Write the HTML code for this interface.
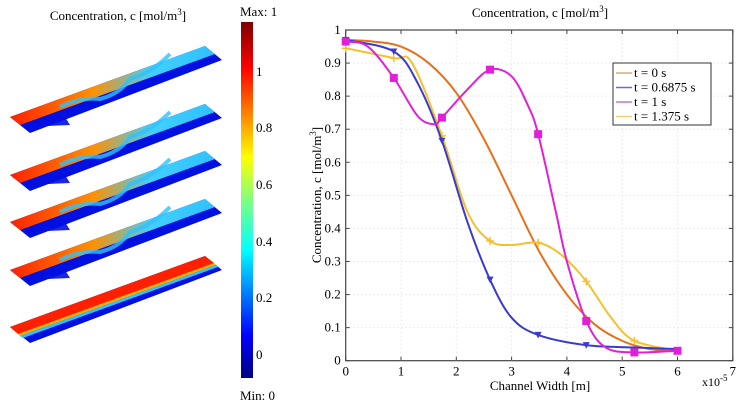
<!DOCTYPE html>
<html><head><meta charset="utf-8"><style>
body{margin:0;background:#fff;width:747px;height:408px;overflow:hidden;font-family:"Liberation Serif",serif}
</style></head><body>
<svg width="747" height="408" xmlns="http://www.w3.org/2000/svg" font-family="Liberation Serif, serif">
<defs>
<linearGradient id="jet" x1="0" y1="1" x2="0" y2="0">
<stop offset="0" stop-color="#00007f"/><stop offset="0.12" stop-color="#0000ff"/><stop offset="0.36" stop-color="#00ffff"/><stop offset="0.5" stop-color="#7fff7f"/><stop offset="0.62" stop-color="#ffff00"/><stop offset="0.87" stop-color="#ff0000"/><stop offset="1" stop-color="#7f0000"/>
</linearGradient>
<linearGradient id="mix" x1="0" y1="0" x2="1" y2="0">
<stop offset="0" stop-color="#ff2000"/><stop offset="0.4" stop-color="#ff9000"/><stop offset="0.7" stop-color="#40d0ff"/><stop offset="1" stop-color="#30c0ff"/>
</linearGradient>
</defs>
<text x="118" y="20" font-size="13" text-anchor="middle">Concentration, c [mol/m<tspan dy="-5" font-size="9">3</tspan><tspan dy="5">]</tspan></text>
<g id="slabs"></g>
<rect x="241" y="22" width="12" height="356" fill="url(#jet)"/>
<g font-size="13">
<text x="240" y="16">Max: 1</text>
<text x="240" y="400">Min:  0</text>
<text x="256" y="76">1</text><text x="256" y="132">0.8</text><text x="256" y="189">0.6</text><text x="256" y="246">0.4</text><text x="256" y="302">0.2</text><text x="256" y="359">0</text>
</g>
<text x="540" y="17" font-size="13" text-anchor="middle">Concentration, c [mol/m<tspan dy="-5" font-size="9">3</tspan><tspan dy="5">]</tspan></text>
<g id="chart"></g>
<text x="540" y="390" font-size="13" text-anchor="middle">Channel Width [m]</text>
<text x="702" y="386" font-size="12">x10<tspan dy="-5" font-size="9">-5</tspan></text>
<text transform="translate(321,195) rotate(-90)" font-size="13" text-anchor="middle">Concentration, c [mol/m<tspan dy="-5" font-size="9">3</tspan><tspan dy="5">]</tspan></text>
</svg>
<script>
const xTicks=[0,1,2,3,4,5,6,7];
const yTicks=[0,0.1,0.2,0.3,0.4,0.5,0.6,0.7,0.8,0.9,1];
const seriesNames=["t = 0 s","t = 0.6875 s","t = 1 s","t = 1.375 s"];
const xOrange=[0,0.5,1,1.5,2,2.5,3,3.5,4,4.5,5,5.5,6];
const yOrange=[0.97,0.965,0.95,0.9,0.81,0.67,0.5,0.33,0.2,0.11,0.06,0.035,0.03];
const xBlue=[0,0.87,1.3,1.74,2.2,2.61,3.0,3.48,4.35,5.22,6];
const yBlue=[0.97,0.935,0.84,0.665,0.42,0.245,0.13,0.078,0.047,0.04,0.035];
const xMag=[0,0.4,0.87,1.3,1.6,1.74,2.2,2.61,3.0,3.3,3.48,3.8,4.0,4.35,4.7,5.22,6];
const yMag=[0.965,0.95,0.855,0.74,0.715,0.735,0.82,0.88,0.86,0.77,0.685,0.45,0.3,0.12,0.04,0.025,0.03];
const xYel=[0,0.87,1.2,1.74,2.2,2.61,3.0,3.48,3.9,4.35,4.8,5.22,6];
const yYel=[0.945,0.915,0.9,0.68,0.45,0.362,0.35,0.357,0.32,0.24,0.13,0.06,0.03];
const mBlue=[0,0.87,1.74,2.61,3.48,4.35];
const mMag=[0,0.87,1.74,2.61,3.48,4.35,5.22,6];
const mYel=[0,0.87,1.74,2.61,3.48,4.35,5.22];
const NS="http://www.w3.org/2000/svg";
const X0=345.7,XU=55.3,Y0=360.7,YU=330.7;
const sx=v=>X0+v*XU, sy=v=>Y0-v*YU;
const g=document.getElementById('chart');
function el(t,a,p){const e=document.createElementNS(NS,t);for(const k in a)e.setAttribute(k,a[k]);(p||g).appendChild(e);return e;}
function interp(xs,ys,x){for(let i=0;i<xs.length-1;i++){if(x<=xs[i+1]){const t=(x-xs[i])/(xs[i+1]-xs[i]);return ys[i]+t*(ys[i+1]-ys[i]);}}return ys[ys.length-1];}
function spline(xs,ys){let d=`M${sx(xs[0])},${sy(ys[0])}`;const n=xs.length;for(let i=0;i<n-1;i++){const p0=i?i-1:0,p3=i+2<n?i+2:n-1;const x1=sx(xs[i])+(sx(xs[i+1])-sx(xs[p0]))/6,y1=sy(ys[i])+(sy(ys[i+1])-sy(ys[p0]))/6,x2=sx(xs[i+1])-(sx(xs[p3])-sx(xs[i]))/6,y2=sy(ys[i+1])-(sy(ys[p3])-sy(ys[i]))/6;d+=` C${x1},${y1} ${x2},${y2} ${sx(xs[i+1])},${sy(ys[i+1])}`;}return d;}
const frame=el('rect',{x:sx(0),y:sy(1),width:sx(7)-sx(0),height:sy(0)-sy(1),fill:'#fff',stroke:'#444','stroke-width':1.2});


xTicks.forEach(t=>{
  if(t>0&&t<7)el('line',{x1:sx(t),x2:sx(t),y1:sy(0),y2:sy(1),stroke:'#ddd','stroke-dasharray':'1 3'});
  el('line',{x1:sx(t),x2:sx(t),y1:sy(0),y2:sy(0)-4,stroke:'#444'});
  el('line',{x1:sx(t),x2:sx(t),y1:sy(1),y2:sy(1)+4,stroke:'#444'});
  const tx=el('text',{x:sx(t),y:sy(0)+15,'font-size':13,'text-anchor':'middle'});tx.textContent=t;
  
  
});
yTicks.forEach(t=>{
  if(t>0&&t<1)el('line',{x1:sx(0),x2:sx(7),y1:sy(t),y2:sy(t),stroke:'#ddd','stroke-dasharray':'1 3'});
  el('line',{x1:sx(0),x2:sx(0)+4,y1:sy(t),y2:sy(t),stroke:'#444'});
  el('line',{x1:sx(7),x2:sx(7)-4,y1:sy(t),y2:sy(t),stroke:'#444'});
  const tx=el('text',{x:sx(0)-5,y:sy(t)+4,'font-size':13,'text-anchor':'end'});tx.textContent=t===0||t===1?t:t.toFixed(1);
  
  
});
function marker(type,x,y,c){
  if(type==='tri'){const m=el('path',{d:`M${x-3.5},${y-3} L${x+3.5},${y-3} L${x},${y+3.5}Z`,fill:c});}
  else if(type==='sq'){const m=el('rect',{x:x-4,y:y-4,width:8,height:8,fill:c});}
  else {const m=el('path',{d:`M${x-4},${y}H${x+4}M${x},${y-4}V${y+4}`,stroke:c,'stroke-width':1.5});}
}
const series=[
 {xs:xOrange,ys:yOrange,c:'#e8701a',m:null,mk:null,n:'series-t0'},
 {xs:xBlue,ys:yBlue,c:'#3a3ad0',m:mBlue,mk:'tri',n:'series-t06875'},
 {xs:xMag,ys:yMag,c:'#e020d8',m:mMag,mk:'sq',n:'series-t1'},
 {xs:xYel,ys:yYel,c:'#f5c030',m:mYel,mk:'plus',n:'series-t1375'}];
[0,3,1,2].forEach(i=>{const s=series[i];
  const p=el('path',{d:spline(s.xs,s.ys),fill:'none',stroke:s.c,'stroke-width':2});
  
  
  if(s.m)s.m.forEach(mx=>marker(s.mk,sx(mx),sy(interp(s.xs,s.ys,mx)),s.c));
});
const lg=el('g',{});


el('rect',{x:613,y:63,width:98,height:62,fill:'#fff',stroke:'#333'},lg);
const lc=['#d8b070','#6a6ad0','#d070d0','#f0d070'];
seriesNames.forEach((nm,i)=>{const y=77+i*14.5;
  el('line',{x1:616,x2:632,y1:y-4,y2:y-4,stroke:lc[i],'stroke-width':1.5},lg);
  const t=el('text',{x:634,y:y,'font-size':13},lg);t.textContent=nm;
  
  
});
const sg=document.getElementById('slabs');
const slabY=[117,175,222,270,327];
slabY.forEach((y,i)=>{
  const d=`M10,${y} L205,${y-71} L222,${y-57} L30,${y+16}Z`;
  const gr=el('g',{},sg);
  
  
  el('path',{d:d,fill:'#0010e0'},gr);
  if(i===4){
    el('path',{d:`M10,${y} L205,${y-71} L214,${y-64} L18,${y+7}Z`,fill:'#ff2000'},gr);
    el('path',{d:`M18,${y+7} L214,${y-64} L216,${y-62} L20,${y+9}Z`,fill:'#ffb000'},gr);
    el('path',{d:`M20,${y+9} L216,${y-62} L218,${y-60} L23,${y+11}Z`,fill:'#30c0ff'},gr);
  } else {
    el('path',{d:`M10,${y} L205,${y-71} L215,${y-63} L20,${y+8}Z`,fill:'url(#mix)'},gr);
    el('path',{d:`M60,${y-10} q20,-10 40,-8 q20,-5 30,-20 q20,-5 40,-25`,fill:'none',stroke:'#30c0ff','stroke-width':4,opacity:0.8},gr);
    el('path',{d:`M25,${y+10} q20,-12 40,-10 l5,8 z`,fill:'#0010e0',opacity:0.9},gr);
  }
});
</script>
</body></html>
